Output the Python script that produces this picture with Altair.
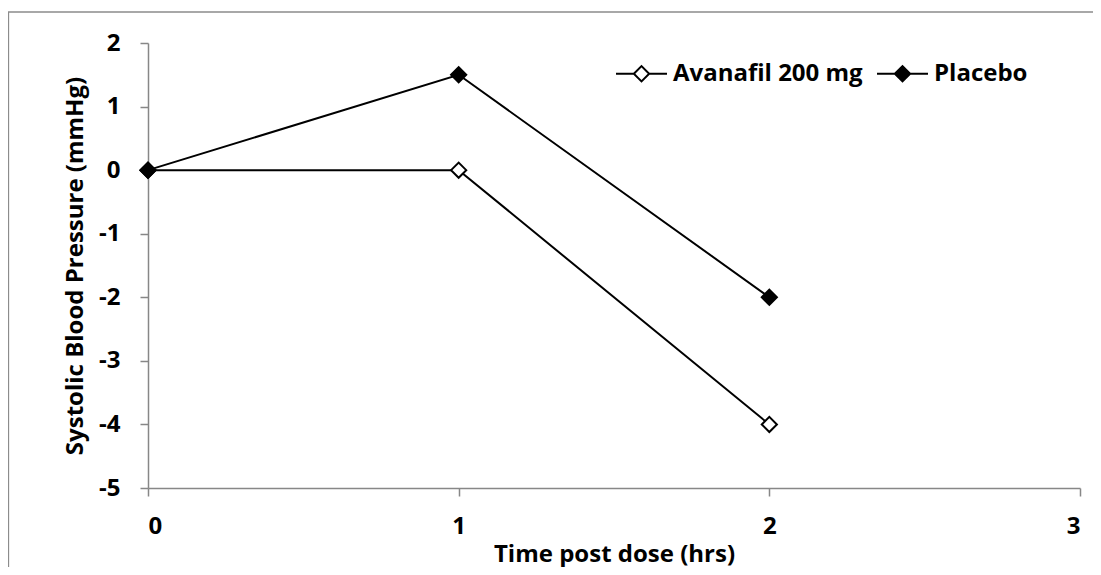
import altair as alt
import pandas as pd

# Data
time_hrs = [0, 1, 2]
avanafil = [0, 0, -4]
placebo = [0, 1.5, -2]
series_names = ["Avanafil 200 mg", "Placebo"]
x_ticks = [0, 1, 2, 3]
y_ticks = [-5, -4, -3, -2, -1, 0, 1, 2]

rows = []
for t, v in zip(time_hrs, avanafil):
    rows.append({"Time": t, "Value": v, "Series": series_names[0]})
for t, v in zip(time_hrs, placebo):
    rows.append({"Time": t, "Value": v, "Series": series_names[1]})
df = pd.DataFrame(rows)

FONT = "Open Sans"
FS = 24
GRAY = "#878787"

x_enc = alt.X(
    "Time:Q",
    scale=alt.Scale(domain=[0, 3], nice=False, zero=False),
    axis=alt.Axis(
        values=x_ticks, title="Time post dose (hrs)", grid=False,
        domainColor=GRAY, domainWidth=1.5, tickColor=GRAY, tickWidth=1.5, tickSize=8,
        labelFont=FONT, labelFontSize=FS, labelFontWeight="bold", labelColor="black",
        labelPadding=18, labelExpr="datum.value + ''",
        titleFont=FONT, titleFontSize=FS, titleFontWeight="bold", titleColor="black",
        titleY=73, titleBaseline="alphabetic",
    ),
)
y_enc = alt.Y(
    "Value:Q",
    scale=alt.Scale(domain=[-5, 2], nice=False, zero=False),
    axis=alt.Axis(
        values=y_ticks, title="Systolic Blood Pressure (mmHg)", grid=False,
        domainColor=GRAY, domainWidth=1.5, tickColor=GRAY, tickWidth=1.5, tickSize=8,
        labelFont=FONT, labelFontSize=FS, labelFontWeight="bold", labelColor="black",
        labelPadding=20, labelExpr="datum.value + ''",
        titleFont=FONT, titleFontSize=FS, titleFontWeight="bold", titleColor="black",
        titleAngle=270, titleX=-66, titleBaseline="alphabetic",
    ),
)

border = alt.Chart(pd.DataFrame({"a": [0]})).mark_rect(
    fillOpacity=0, stroke="#8c8c8c", strokeWidth=1.3, clip=False
).encode(
    x=alt.value(-139.5), x2=alt.value(1000), y=alt.value(-31), y2=alt.value(600)
)

lines = alt.Chart(df).mark_line(color="black", strokeWidth=2).encode(
    x=x_enc, y=y_enc, detail="Series:N"
)

legend_symbol = "M-1,0H-0.3M0.3,0H1M-0.3,0L0,-0.3L0.3,0L0,0.3Z"

points = alt.Chart(df).mark_point(
    shape="diamond", size=230, filled=True, stroke="black", strokeWidth=2, opacity=1
).encode(
    x=x_enc, y=y_enc,
    fill=alt.Fill(
        "Series:N",
        scale=alt.Scale(domain=series_names, range=["white", "black"]),
        legend=alt.Legend(
            title=None, orient="none", legendX=467, legendY=4, direction="horizontal",
            symbolType=legend_symbol, symbolSize=2600, symbolStrokeColor="black",
            symbolStrokeWidth=2, symbolOpacity=1,
            labelFont=FONT, labelFontSize=FS, labelFontWeight="bold", labelColor="black",
            labelOffset=5, columnPadding=10, labelLimit=400,
        ),
    ),
)

chart = alt.layer(border, lines, points).properties(
    width=932, height=445,
    autosize=alt.AutoSizeParams(type="none"),
    padding={"left": 140, "top": 35, "right": 13, "bottom": 79},
    background="white",
).configure_view(stroke=None)

chart.save("out.html", embed_options={"renderer": "svg", "actions": False})
